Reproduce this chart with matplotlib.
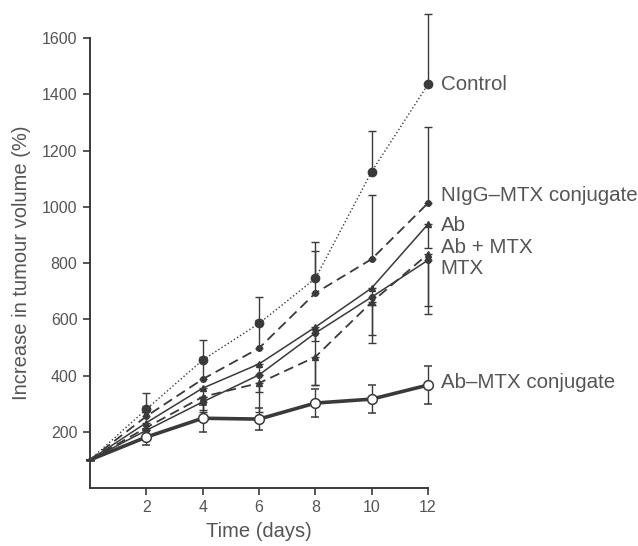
import matplotlib

matplotlib.use("Agg")
import matplotlib.pyplot as plt

plt.rcParams["font.family"] = ["Liberation Sans", "DejaVu Sans"]

INK = "#3a3a3a"
TXT = "#555555"

days = [0, 2, 4, 6, 8, 10, 12]

# valores (% de aumento do volume tumoral)
control = [100, 280, 455, 585, 745, 1125, 1435]
control_up = [0, 58, 70, 95, 128, 146, 250]

nigg_mtx = [100, 255, 387, 497, 693, 814, 1013]
nigg_up = [0, 35, 80, 100, 150, 227, 270]

ab = [100, 232, 355, 441, 572, 711, 938]
ab_lo = [0, 25, 30, 40, 50, 60, 85]

ab_plus_mtx = [100, 215, 324, 373, 466, 661, 832]
ab_plus_lo = [0, 30, 45, 32, 100, 117, 185]

mtx = [100, 205, 306, 402, 551, 679, 810]
mtx_lo = [0, 30, 36, 132, 185, 164, 192]

ab_mtx_conj = [100, 181, 248, 245, 302, 316, 366]
ab_mtx_err = [0, 28, 48, 40, 50, 50, 68]

labels = ["Control", "NIgG\u2013MTX conjugate", "Ab", "Ab + MTX", "MTX",
          "Ab\u2013MTX conjugate"]
label_y = [1435, 1040, 935, 855, 780, 375]

fig = plt.figure(figsize=(6.38, 5.46), dpi=100)
ax = fig.add_axes([90 / 638, 1 - 488 / 546, 338 / 638, 450 / 546])

# sem marcador no dia 0 (todas as curvas partem de 100 %)
eb = dict(ecolor=INK, elinewidth=1.0, capsize=3, capthick=1.0, clip_on=False,
          markevery=range(1, 7))

ax.errorbar(days, control, yerr=[[0] * 7, control_up], color=INK, ls=":",
            lw=1.0, marker="o", ms=6, mfc=INK, mec=INK, zorder=3, **eb)
ax.errorbar(days, nigg_mtx, yerr=[[0] * 7, nigg_up], color=INK,
            ls=(0, (5.5, 3)), lw=1.3, marker="o", ms=4, mfc=INK, mec=INK,
            zorder=3, **eb)
ax.errorbar(days, ab, yerr=[ab_lo, [0] * 7], color=INK, ls="-",
            lw=1.1, marker="^", ms=4, mfc=INK, mec=INK, zorder=3, **eb)
ax.errorbar(days, ab_plus_mtx, yerr=[ab_plus_lo, [0] * 7], color=INK,
            ls=(0, (5.5, 3)), lw=1.3, marker="^", ms=4, mfc=INK, mec=INK,
            zorder=3, **eb)
ax.errorbar(days, mtx, yerr=[mtx_lo, [0] * 7], color=INK, ls="-",
            lw=1.1, marker="o", ms=4, mfc=INK, mec=INK, zorder=3, **eb)
ax.errorbar(days, ab_mtx_conj, yerr=ab_mtx_err, color=INK, ls="-",
            lw=2.6, marker="o", ms=7, mfc="white", mec=INK, mew=1.1,
            zorder=4, **eb)

for txt, yv in zip(labels, label_y):
    ax.text(12.45, yv, txt, fontsize=14.8, color=TXT, va="center",
            ha="left", clip_on=False)

ax.set_xlim(0, 12)
ax.set_ylim(0, 1600)
ax.set_xticks([2, 4, 6, 8, 10, 12])
ax.set_yticks([200, 400, 600, 800, 1000, 1200, 1400, 1600])
ax.tick_params(colors=INK, labelcolor=TXT, labelsize=11.5, length=5,
               width=1.2, direction="out", pad=4)
for s in ("top", "right"):
    ax.spines[s].set_visible(False)
for s in ("left", "bottom"):
    ax.spines[s].set_color(INK)
    ax.spines[s].set_linewidth(1.4)

ax.set_xlabel("Time (days)", fontsize=14.5, color=TXT, labelpad=5)
ax.set_ylabel("Increase in tumour volume (%)", fontsize=14.5, color=TXT,
              labelpad=8)

fig.savefig("out.png", dpi=100)
